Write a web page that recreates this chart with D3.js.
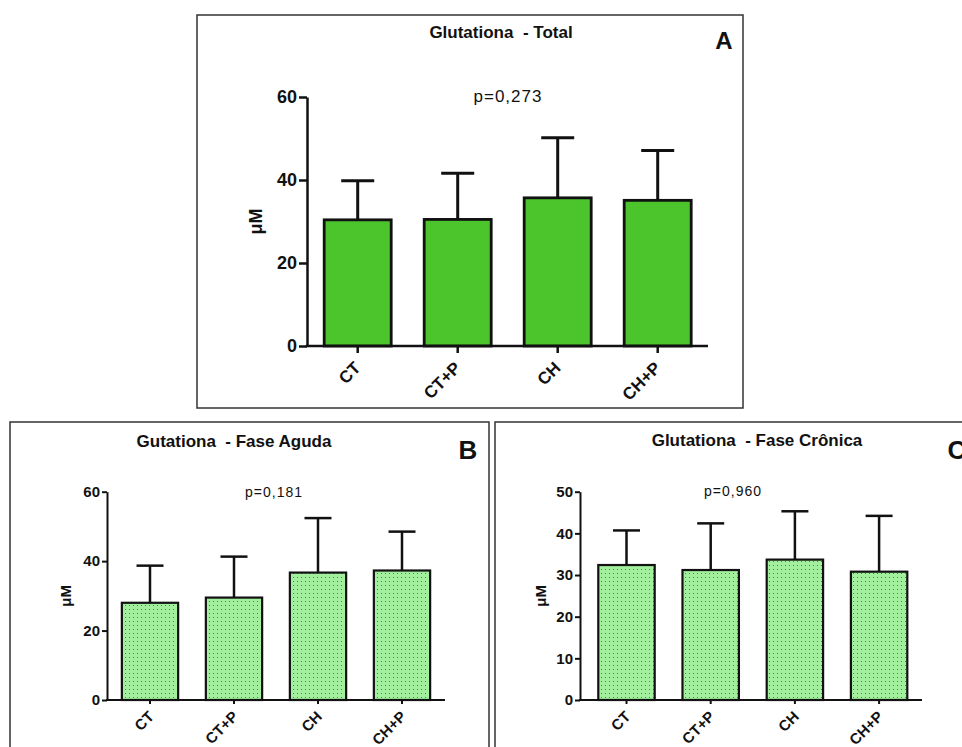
<!DOCTYPE html>
<html>
<head>
<meta charset="utf-8">
<script src="https://cdn.jsdelivr.net/npm/d3@7"></script>
<style>
  html, body { margin: 0; padding: 0; background: #fff; }
  svg { display: block; }
  text { font-family: "Liberation Sans", Arial, sans-serif; fill: #111; }
</style>
</head>
<body>
<svg id="chart" width="962" height="747"></svg>
<script>
// ---------- data ----------
const categories = ["CT", "CT+P", "CH", "CH+P"];

const totalMeans = [30.4, 30.5, 35.7, 35.1];
const totalErrors = [9.4, 11.1, 14.5, 12.0];

const agudaMeans = [28.0, 29.5, 36.7, 37.3];
const agudaErrors = [10.7, 11.8, 15.7, 11.2];

const cronicaMeans = [32.4, 31.2, 33.7, 30.8];
const cronicaErrors = [8.3, 11.2, 11.6, 13.4];

const totalTicks = [0, 20, 40, 60];
const agudaTicks = [0, 20, 40, 60];
const cronicaTicks = [0, 10, 20, 30, 40, 50];

const titles = ["Glutationa  - Total", "Gutationa  - Fase Aguda", "Glutationa  - Fase Crônica"];
const pValues = ["p=0,273", "p=0,181", "p=0,960"];
const panelLetters = ["A", "B", "C"];
const yLabel = "μM";

// ---------- drawing ----------
const svg = d3.select("#chart");
const defs = svg.append("defs");
const pat = defs.append("pattern")
  .attr("id", "dots").attr("patternUnits", "userSpaceOnUse")
  .attr("width", 4).attr("height", 4);
pat.append("rect").attr("width", 4).attr("height", 4).attr("fill", "#a2f09e");
pat.append("rect").attr("x", 1).attr("y", 1).attr("width", 1).attr("height", 1).attr("fill", "#3f8f3c");

const panels = [
  {
    means: totalMeans, errors: totalErrors, ticks: totalTicks, max: 60,
    title: titles[0], p: pValues[0], letter: panelLetters[0],
    box: [197, 15, 743, 408],
    y0: 346, y1: 97, bx0: 307.7, bx1: 707.7, axisX: 307, axisEnd: 708,
    fill: "#4bc52b", capW: 33, barStroke: 2.8, errStroke: 3, axisStroke: 2.5,
    tickLen: 8, tickFont: 18, xFont: 17, yLabFont: 18, yLabX: 262,
    titleX: 501, titleY: 38, titleFont: 17,
    pX: 508, pY: 102, pFont: 17, letterX: 724, letterY: 49, letterFont: 24,
    xlabDx: 4, xlabDy: 23, paddingInner: 0.33
  },
  {
    means: agudaMeans, errors: agudaErrors, ticks: agudaTicks, max: 60,
    title: titles[1], p: pValues[1], letter: panelLetters[1],
    box: [10, 422, 489, 770],
    y0: 700, y1: 491.7, bx0: 108, bx1: 444, axisX: 107, axisEnd: 445,
    fill: "url(#dots)", capW: 27, barStroke: 2.2, errStroke: 2.5, axisStroke: 2,
    tickLen: 5, tickFont: 15, xFont: 15, yLabFont: 15, yLabX: 71,
    titleX: 234, titleY: 447, titleFont: 17,
    pX: 274, pY: 497, pFont: 14, letterX: 468, letterY: 459, letterFont: 26,
    xlabDx: 5, xlabDy: 17.5, paddingInner: 0.33
  },
  {
    means: cronicaMeans, errors: cronicaErrors, ticks: cronicaTicks, max: 50,
    title: titles[2], p: pValues[2], letter: panelLetters[2],
    box: [495, 422, 975, 770],
    y0: 700, y1: 491.7, bx0: 584.4, bx1: 921.2, axisX: 580, axisEnd: 922,
    fill: "url(#dots)", capW: 27, barStroke: 2.2, errStroke: 2.5, axisStroke: 2,
    tickLen: 5, tickFont: 15, xFont: 15, yLabFont: 15, yLabX: 546,
    titleX: 757, titleY: 446, titleFont: 17,
    pX: 733, pY: 496, pFont: 14, letterX: 957, letterY: 459, letterFont: 26,
    xlabDx: 5, xlabDy: 17.5, paddingInner: 0.33
  }
];

panels.forEach(P => {
  const g = svg.append("g");
  // frame
  g.append("rect")
    .attr("x", P.box[0]).attr("y", P.box[1])
    .attr("width", P.box[2] - P.box[0]).attr("height", P.box[3] - P.box[1])
    .attr("fill", "none").attr("stroke", "#333").attr("stroke-width", 1.5);

  const y = d3.scaleLinear().domain([0, P.max]).range([P.y0, P.y1]);
  const x = d3.scaleBand().domain(categories).range([P.bx0, P.bx1]).paddingInner(P.paddingInner).paddingOuter(P.paddingInner / 2);

  const data = categories.map((c, i) => ({ c, m: P.means[i], e: P.errors[i] }));

  // error bars (drawn first so bar outline covers the base)
  const eg = g.append("g").attr("stroke", "#111").attr("stroke-width", P.errStroke).attr("fill", "none");
  eg.selectAll("line.stem").data(data).join("line")
    .attr("x1", d => x(d.c) + x.bandwidth() / 2).attr("x2", d => x(d.c) + x.bandwidth() / 2)
    .attr("y1", d => y(d.m)).attr("y2", d => y(d.m + d.e));
  eg.selectAll("line.cap").data(data).join("line")
    .attr("x1", d => x(d.c) + x.bandwidth() / 2 - P.capW / 2).attr("x2", d => x(d.c) + x.bandwidth() / 2 + P.capW / 2)
    .attr("y1", d => y(d.m + d.e)).attr("y2", d => y(d.m + d.e));

  // bars
  g.append("g").selectAll("rect").data(data).join("rect")
    .attr("x", d => x(d.c)).attr("width", x.bandwidth())
    .attr("y", d => y(d.m)).attr("height", d => y(0) - y(d.m))
    .attr("fill", P.fill).attr("stroke", "#111").attr("stroke-width", P.barStroke);

  // y axis
  const ya = g.append("g").attr("transform", `translate(${P.axisX},0)`)
    .call(d3.axisLeft(y).tickValues(P.ticks).tickSize(P.tickLen).tickSizeOuter(0).tickPadding(2));
  ya.select(".domain").attr("stroke", "#111").attr("stroke-width", P.axisStroke);
  ya.selectAll(".tick line").attr("stroke", "#111").attr("stroke-width", P.axisStroke);
  ya.selectAll(".tick text").attr("font-size", P.tickFont).attr("font-weight", "bold")
    .attr("font-family", "Liberation Sans, Arial, sans-serif").attr("fill", "#111");

  // x axis
  const xa = g.append("g").attr("transform", `translate(0,${P.y0})`)
    .call(d3.axisBottom(x).tickSize(P.tickLen - 1).tickSizeOuter(0).tickFormat(""));
  xa.select(".domain").remove();
  xa.selectAll(".tick line").attr("stroke", "#111").attr("stroke-width", P.axisStroke);
  g.append("line").attr("x1", P.axisX - P.axisStroke / 2).attr("x2", P.axisEnd)
    .attr("y1", P.y0).attr("y2", P.y0).attr("stroke", "#111").attr("stroke-width", P.axisStroke);

  g.append("g").selectAll("text").data(categories).join("text")
    .attr("transform", d => `translate(${x(d) + x.bandwidth() / 2 + P.xlabDx},${P.y0 + P.xlabDy}) rotate(-45)`)
    .attr("text-anchor", "end")
    .attr("font-size", P.xFont).attr("font-weight", "bold")
    .text(d => d);

  // y label
  g.append("text")
    .attr("transform", `translate(${P.yLabX},${(P.y0 + P.y1) / 2}) rotate(-90)`)
    .attr("text-anchor", "middle").attr("font-size", P.yLabFont).attr("font-weight", "bold")
    .text(yLabel);

  // title
  g.append("text").attr("x", P.titleX).attr("y", P.titleY)
    .attr("text-anchor", "middle").attr("font-size", P.titleFont).attr("font-weight", "bold")
    .style("white-space", "pre").attr("xml:space", "preserve")
    .text(P.title);

  // p value
  g.append("text").attr("x", P.pX).attr("y", P.pY)
    .attr("text-anchor", "middle").attr("font-size", P.pFont)
    .attr("letter-spacing", 1).attr("fill", "#222")
    .text(P.p);

  // panel letter
  g.append("text").attr("x", P.letterX).attr("y", P.letterY)
    .attr("text-anchor", "middle").attr("font-size", P.letterFont).attr("font-weight", "bold")
    .text(P.letter);
});
</script>
</body>
</html>
